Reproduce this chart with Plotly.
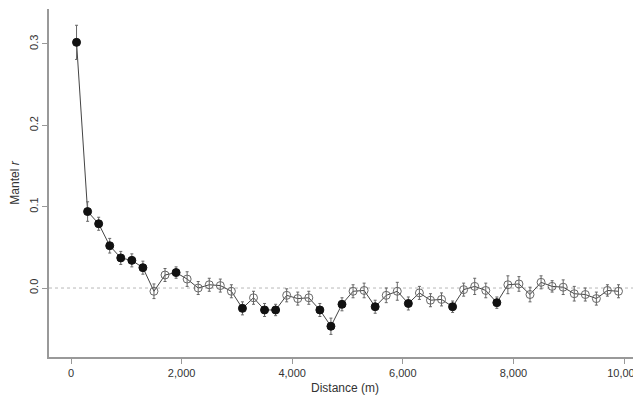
import plotly.graph_objects as go

distance = [100 + 200 * i for i in range(50)]
mantel_r = [0.302, 0.094, 0.079, 0.052, 0.037, 0.034, 0.025, -0.004, 0.016, 0.019,
            0.011, 0.000, 0.004, 0.003, -0.004, -0.025, -0.012, -0.027, -0.027, -0.009,
            -0.013, -0.012, -0.027, -0.047, -0.020, -0.004, -0.003, -0.023, -0.009, -0.004,
            -0.019, -0.006, -0.015, -0.014, -0.023, -0.002, 0.002, -0.003, -0.018, 0.004,
            0.005, -0.008, 0.007, 0.002, 0.001, -0.007, -0.008, -0.013, -0.003, -0.004]
err = [0.021, 0.012, 0.008, 0.009, 0.008, 0.008, 0.008, 0.009, 0.008, 0.007,
       0.009, 0.008, 0.008, 0.008, 0.008, 0.008, 0.008, 0.008, 0.007, 0.008,
       0.008, 0.008, 0.008, 0.010, 0.008, 0.008, 0.009, 0.008, 0.009, 0.011,
       0.008, 0.008, 0.008, 0.008, 0.007, 0.008, 0.010, 0.009, 0.007, 0.011,
       0.009, 0.009, 0.008, 0.007, 0.009, 0.009, 0.008, 0.008, 0.007, 0.008]
significant = [1, 1, 1, 1, 1, 1, 1, 0, 0, 1,
               0, 0, 0, 0, 0, 1, 0, 1, 1, 0,
               0, 0, 1, 1, 1, 0, 0, 1, 0, 0,
               1, 0, 0, 0, 1, 0, 0, 0, 1, 0,
               0, 0, 0, 0, 0, 0, 0, 0, 0, 0]

x_ticks = [0, 2000, 4000, 6000, 8000, 10000]
x_ticktext = ["0", "2,000", "4,000", "6,000", "8,000", "10,000"]
y_ticks = [0.0, 0.1, 0.2, 0.3]
y_ticktext = ["0.0", "0.1", "0.2", "0.3"]

def subset(flag):
    idx = [i for i, s in enumerate(significant) if s == flag]
    return ([distance[i] for i in idx], [mantel_r[i] for i in idx], [err[i] for i in idx])

fig = go.Figure()
fig.add_hline(y=0, line=dict(color="#b8b8b8", width=1, dash="3px,3px"), layer="below")
fig.add_trace(go.Scatter(x=distance, y=mantel_r, mode="lines",
                         line=dict(color="#444444", width=1), hoverinfo="skip"))
for flag in (0, 1):
    xs, ys, es = subset(flag)
    fig.add_trace(go.Scatter(
        x=xs, y=ys, mode="markers",
        marker=dict(symbol="circle" if flag else "circle-open",
                    size=8,
                    color="#111111" if flag else "#666666",
                    line=dict(width=1, color="#111111" if flag else "#666666")),
        error_y=dict(type="data", array=es, visible=True, color="#666666",
                     thickness=1, width=1.5)))

# page body has an 8px margin, so the figure is sized and offset to compensate
fig.update_layout(
    width=633, height=393,
    margin=dict(l=41, r=0, t=1, b=44),
    paper_bgcolor="white", plot_bgcolor="white",
    showlegend=False,
    font=dict(family="Liberation Sans, Arial, sans-serif", size=11, color="#333333"),
)
fig.update_xaxes(range=[-398, 10307], tickvals=x_ticks, ticktext=x_ticktext,
                 showgrid=False, zeroline=False, showline=True, linecolor="#999999",
                 linewidth=1.5, ticks="outside", ticklen=5, tickcolor="#999999",
                 title=dict(text="Distance (m)", font=dict(size=12), standoff=6))
fig.update_yaxes(range=[-0.0848, 0.343], tickvals=y_ticks, ticktext=y_ticktext,
                 tickangle=-90, showgrid=False, zeroline=False, showline=True,
                 linecolor="#999999", linewidth=1.5, ticks="outside", ticklen=5,
                 tickcolor="#999999",
                 title=dict(text="Mantel <i>r</i>", font=dict(size=12), standoff=9))

fig.write_html("out.html")
